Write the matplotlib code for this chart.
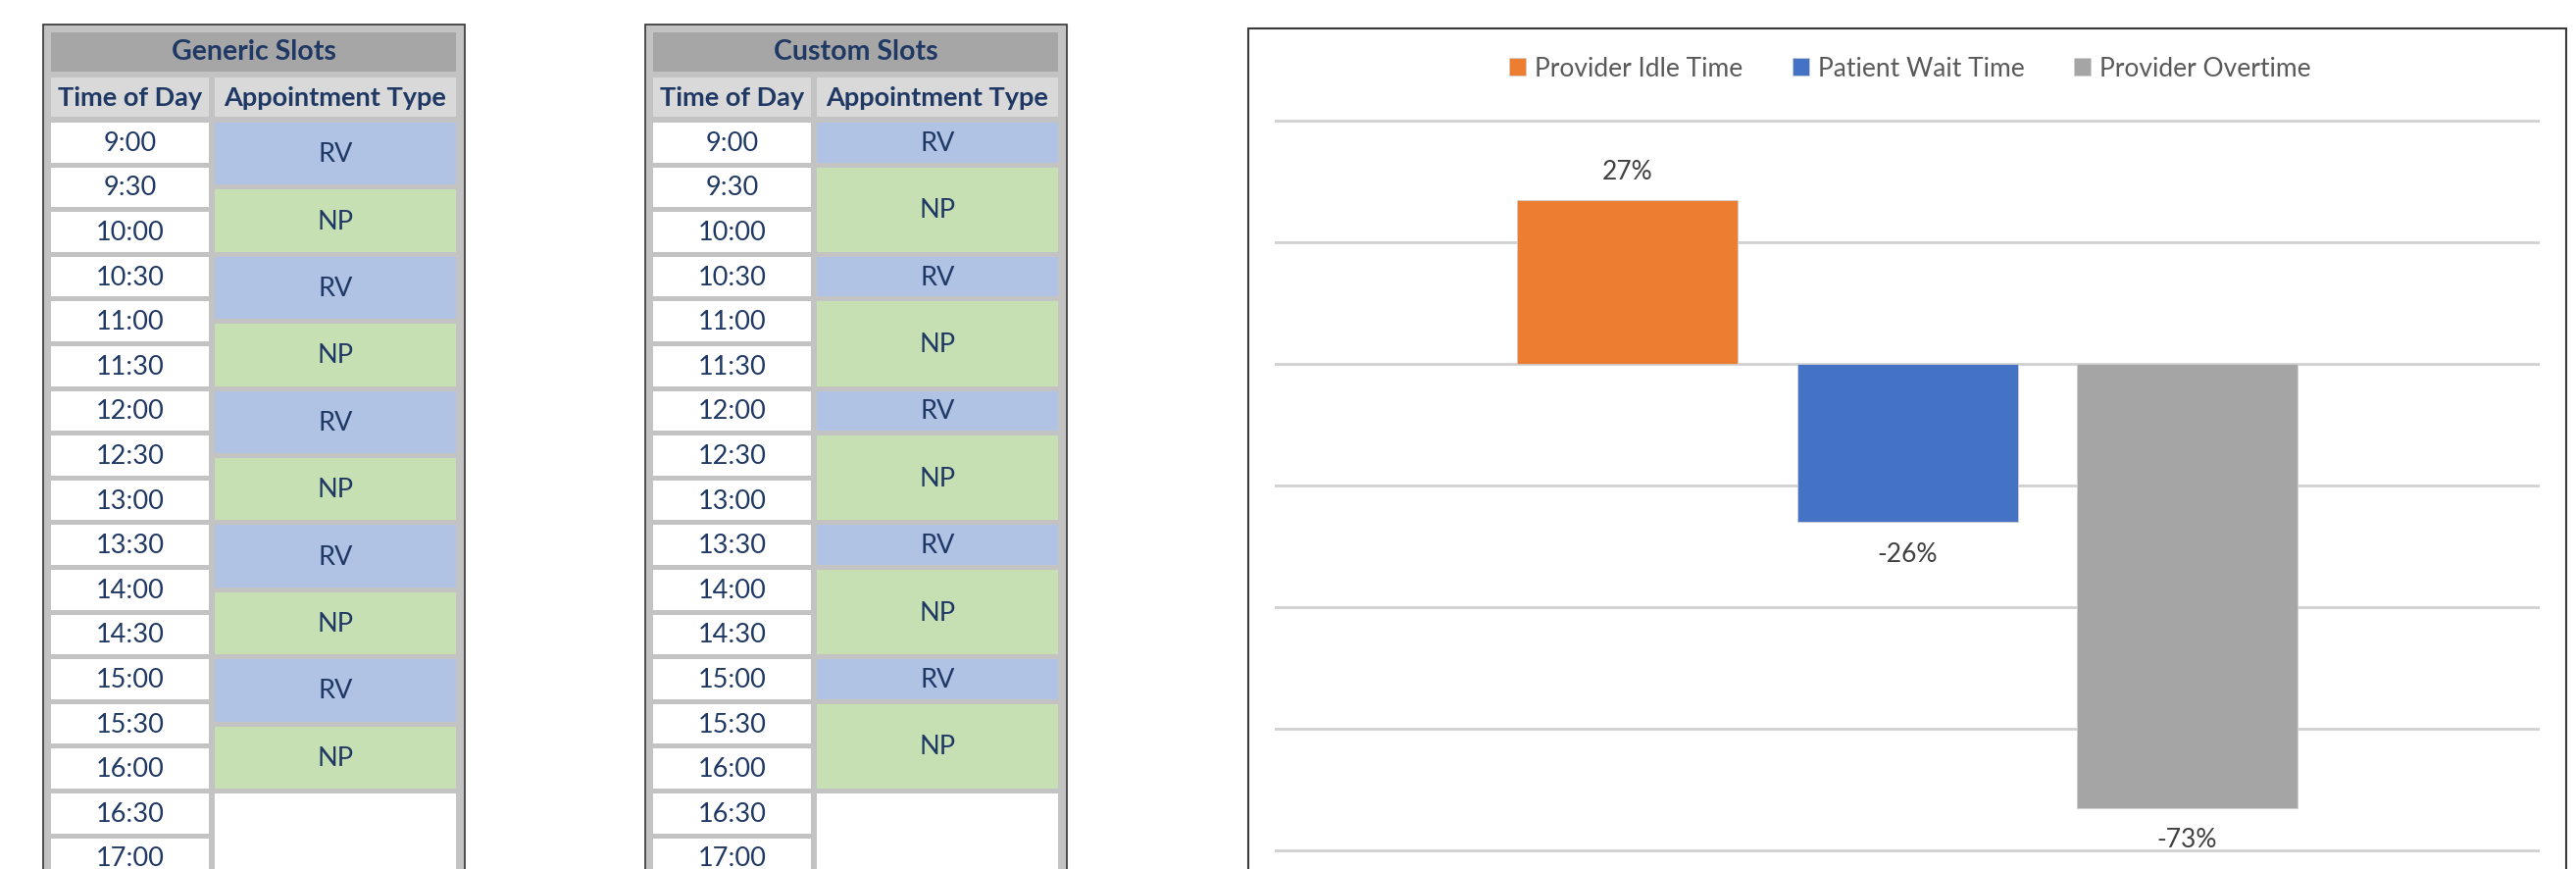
import matplotlib
matplotlib.use('Agg')
import matplotlib.pyplot as plt
from matplotlib.patches import Rectangle, Patch

plt.rcParams['font.family'] = ['Lato', 'DejaVu Sans']

# schedule tables
TIMES = ['9:00', '9:30', '10:00', '10:30', '11:00', '11:30', '12:00', '12:30', '13:00',
         '13:30', '14:00', '14:30', '15:00', '15:30', '16:00', '16:30', '17:00']
GENERIC_TYPES = ['RV', 'NP', 'RV', 'NP', 'RV', 'NP', 'RV', 'NP', 'RV', 'NP', '']
GENERIC_SPANS = [1.5, 1.5, 1.5, 1.5, 1.5, 1.5, 1.5, 1.5, 1.5, 1.5, 2]
CUSTOM_TYPES = ['RV', 'NP', 'RV', 'NP', 'RV', 'NP', 'RV', 'NP', 'RV', 'NP', '']
CUSTOM_SPANS = [1, 2, 1, 2, 1, 2, 1, 2, 1, 2, 2]

# bar chart
SERIES = ['Provider Idle Time', 'Patient Wait Time', 'Provider Overtime']
VALUES = [0.27, -0.26, -0.73]
BAR_COLORS = ['#ed7d31', '#4472c4', '#a5a5a5']

TYPE_COLORS = {'RV': '#b0c3e5', 'NP': '#c6dfb3', '': 'white'}
NAVY = '#1f3864'
W, H = 2627, 886

fig = plt.figure(figsize=(W / 100, H / 100), dpi=100)
bg = fig.add_axes([0, 0, 1, 1])
bg.set_xlim(0, W)
bg.set_ylim(H, 0)
bg.axis('off')


def draw_table(x0, title, types, spans):
    row0, pitch, gap = 125, 45.6, 5
    bg.add_patch(Rectangle((x0, 25), 430, 900, facecolor='#c3c3c3', edgecolor='#333333', lw=1.2))
    bg.add_patch(Rectangle((x0 + 8, 33), 413, 40, facecolor='#a6a6a6', lw=0))
    bg.text(x0 + 8 + 413 / 2, 53, title, ha='center', va='center', fontsize=20.5,
            fontweight='bold', color=NAVY)
    bg.add_patch(Rectangle((x0 + 8, 79), 161, 40, facecolor='#d9d9d9', lw=0))
    bg.add_patch(Rectangle((x0 + 175, 79), 246, 40, facecolor='#d9d9d9', lw=0))
    bg.text(x0 + 8 + 161 / 2, 100, 'Time of Day', ha='center', va='center', fontsize=19.5,
            fontweight='bold', color=NAVY)
    bg.text(x0 + 175 + 246 / 2, 100, 'Appointment Type', ha='center', va='center',
            fontsize=19.5, fontweight='bold', color=NAVY)
    for i, t in enumerate(TIMES):
        y = row0 + pitch * i
        bg.add_patch(Rectangle((x0 + 8, y), 161, pitch - gap, facecolor='white', lw=0))
        bg.text(x0 + 8 + 161 / 2, y + (pitch - gap) / 2 + 1, t, ha='center', va='center',
                fontsize=19.5, color=NAVY)
    cum = 0
    for kind, span in zip(types, spans):
        y = row0 + pitch * cum
        h = pitch * span - gap
        bg.add_patch(Rectangle((x0 + 175, y), 246, h, facecolor=TYPE_COLORS[kind], lw=0))
        if kind:
            bg.text(x0 + 175 + 246 / 2, y + h / 2 + 1, kind, ha='center', va='center',
                    fontsize=19.5, color=NAVY)
        cum += span


draw_table(44, 'Generic Slots', GENERIC_TYPES, GENERIC_SPANS)
draw_table(658, 'Custom Slots', CUSTOM_TYPES, CUSTOM_SPANS)

# chart frame
bg.add_patch(Rectangle((1273, 29), 2617 - 1273, 900, facecolor='white', edgecolor='#3a3a3a',
                       lw=1.5, zorder=0.5))

# plot area: gridlines from x=1300 to 2590, 0 at y=371, 620 px per unit
zero_y, ppu = 371, 620
top_px, bot_px = 100, H
ax = fig.add_axes([1300 / W, 1 - bot_px / H, 1290 / W, (bot_px - top_px) / H])
ax.set_ylim(-(bot_px - zero_y) / ppu, (zero_y - top_px) / ppu)
half = (1945 - 1300) / 285.5
ax.set_xlim(1 - half, 1 + half)
ax.patch.set_alpha(0)
for s in ax.spines.values():
    s.set_visible(False)
ax.set_xticks([])
ax.set_yticks([0.4, 0.2, 0.0, -0.2, -0.4, -0.6, -0.8])
ax.tick_params(left=False, labelleft=False)
ax.grid(axis='y', color='#d0d0d0', lw=2)
ax.set_axisbelow(True)

bars = ax.bar(range(len(VALUES)), VALUES, width=225 / 285.5, color=BAR_COLORS,
              edgecolor='#d0d0d0', lw=0.6)
for i, v in enumerate(VALUES):
    off = 28 if v > 0 else -33
    ax.annotate('{:.0%}'.format(v), (i, v), xytext=(0, off * 0.72), textcoords='offset points',
                ha='center', va='center', fontsize=19, color='#404040', annotation_clip=False)

handles = [Patch(facecolor=c, edgecolor='#d0d0d0', lw=0.5) for c in BAR_COLORS]
fig.legend(handles, SERIES, loc='center', bbox_to_anchor=(1948 / W, 1 - 70 / H), ncol=3,
           frameon=False, fontsize=19, handlelength=0.65, handleheight=0.65,
           handletextpad=0.35, columnspacing=1.9, labelcolor='#595959')

fig.savefig('out.png', dpi=100)
